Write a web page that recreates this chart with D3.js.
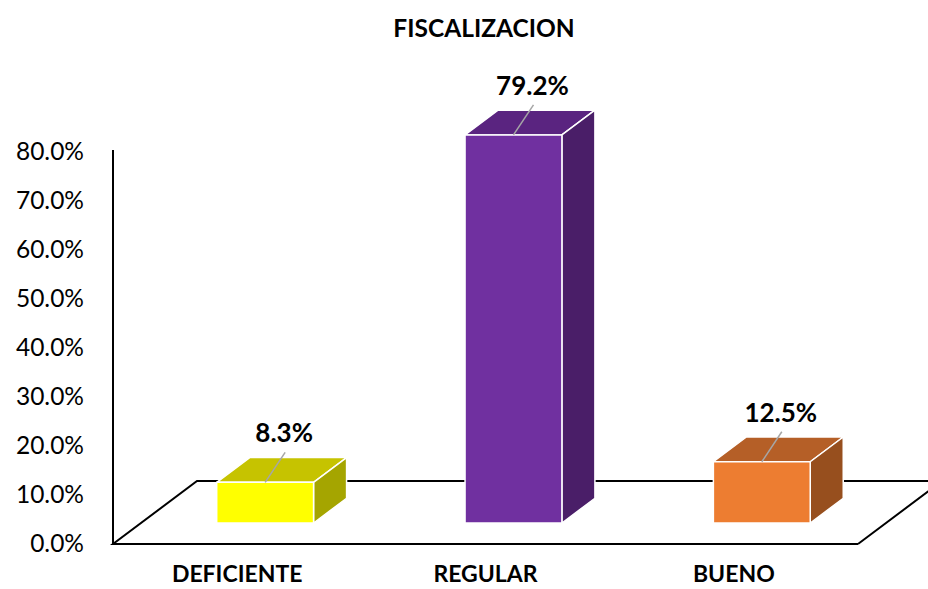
<!DOCTYPE html>
<html>
<head>
<meta charset="utf-8">
<script src="https://cdn.jsdelivr.net/npm/d3@7"></script>
<style>
  body { margin: 0; background: #fff; }
  svg { display: block; font-family: Lato, "Open Sans", sans-serif; }
</style>
</head>
<body>
<svg id="chart" width="928" height="589"></svg>
<script>
// chart data
var categories = ["DEFICIENTE", "REGULAR", "BUENO"];
var values = [0.083, 0.792, 0.125];
var tickValues = [0, 0.1, 0.2, 0.3, 0.4, 0.5, 0.6, 0.7, 0.8];
var title = "FISCALIZACION";

// colours per bar: front, top, side
var frontColors = ["#FFFF00", "#7030A0", "#ED7D31"];
var topColors = ["#C6C300", "#5A2480", "#B55F27"];
var sideColors = ["#A5A500", "#4A1E68", "#974F1E"];

var svg = d3.select("#chart");

var left = 113, right = 858, base = 544;
// depth of the floor in screen pixels
var depthX = 84, depthY = -63;
// bars sit between these depth fractions
var t0 = 0.333, t1 = 0.726;

var x = d3.scaleBand().domain(categories).range([left, right]).padding(0);
var y = d3.scaleLinear().domain([0, 0.8]).range([base, 152]);
var barW = x.bandwidth() * 0.39;

// project (px, value, depth) to screen
function pt(px, v, t) {
  return [px + depthX * t, y(v) + depthY * t];
}

// title
svg.append("text")
  .attr("x", 484).attr("y", 37)
  .attr("text-anchor", "middle")
  .attr("font-size", 24.5).attr("font-weight", "bold")
  .text(title);

// floor
var floor = svg.append("g").attr("stroke", "#000").attr("stroke-width", 2).attr("fill", "none");
var fl = [pt(left, 0, 0), pt(left, 0, 1), pt(right, 0, 1), pt(right, 0, 0)];
floor.append("path").attr("d", d3.line()([fl[3], fl[2], fl[1], fl[0], fl[3]]));

// bars
var bars = svg.selectAll(".bar").data(values).enter().append("g").attr("class", "bar")
  .attr("stroke", "#fff").attr("stroke-width", 1.5).attr("stroke-linejoin", "round");

bars.each(function (v, i) {
  var g = d3.select(this);
  var cx = x(categories[i]) + x.bandwidth() / 2;
  var xa = cx - barW / 2, xb = cx + barW / 2;
  var line = d3.line();
  // top
  g.append("path").attr("fill", topColors[i])
    .attr("d", line([pt(xa, v, t0), pt(xa, v, t1), pt(xb, v, t1), pt(xb, v, t0)]) + "Z");
  // side
  g.append("path").attr("fill", sideColors[i])
    .attr("d", line([pt(xb, 0, t0), pt(xb, v, t0), pt(xb, v, t1), pt(xb, 0, t1)]) + "Z");
  // front
  g.append("path").attr("fill", frontColors[i])
    .attr("d", line([pt(xa, 0, t0), pt(xa, v, t0), pt(xb, v, t0), pt(xb, 0, t0)]) + "Z");
});

// data labels with leader lines
values.forEach(function (v, i) {
  var cx = x(categories[i]) + x.bandwidth() / 2 + depthX * t0;
  var top = pt(0, v, t0)[1];
  svg.append("line")
    .attr("x1", cx + 20).attr("y1", top - 30)
    .attr("x2", cx).attr("y2", top)
    .attr("stroke", "#A6A6A6").attr("stroke-width", 1.5);
  svg.append("text")
    .attr("x", cx + 19).attr("y", top - 40)
    .attr("text-anchor", "middle")
    .attr("font-size", 26).attr("font-weight", "bold")
    .text(d3.format(".1%")(v));
});

// y axis
var yAxis = d3.axisLeft(y).tickValues(tickValues).tickFormat(d3.format(".1%")).tickSize(0).tickPadding(29);
var ya = svg.append("g").attr("transform", "translate(" + left + ",0)").call(yAxis);
ya.select(".domain").remove();
ya.selectAll("text").attr("font-size", 24.5).attr("font-family", "Lato, sans-serif").attr("fill", "#000");
svg.append("line")
  .attr("x1", left).attr("y1", 150).attr("x2", left).attr("y2", base + 1)
  .attr("stroke", "#000").attr("stroke-width", 2);

// x axis labels
var xAxis = d3.axisBottom(x).tickSize(0).tickPadding(22);
var xa = svg.append("g").attr("transform", "translate(0," + base + ")").call(xAxis);
xa.select(".domain").remove();
xa.selectAll("text").attr("font-size", 23).attr("font-weight", "bold")
  .attr("font-family", "Lato, sans-serif").attr("fill", "#000");
</script>
</body>
</html>
